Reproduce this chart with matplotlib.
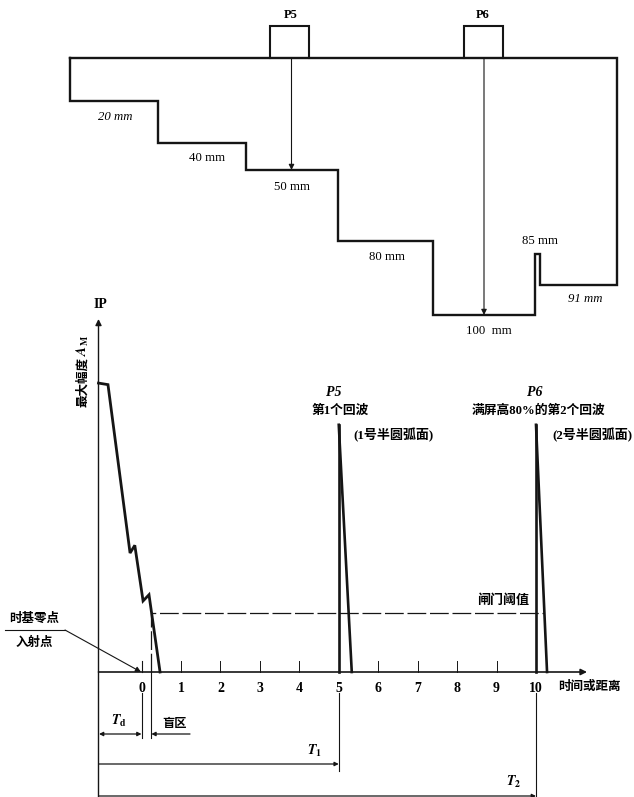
"""Stepped test block with its probe positions and the A-scan it produces."""

import matplotlib

matplotlib.use("Agg")
import matplotlib.pyplot as plt

plt.rcParams["font.family"] = ["Liberation Serif", "Noto Sans CJK SC"]
plt.rcParams["font.weight"] = "bold"
plt.rcParams["mathtext.fontset"] = "stix"

INK = "#151515"
WIDTH, HEIGHT = 634, 797

# block outline (pixels)
block_x = [70, 617, 617, 540, 540, 535, 535, 433, 433, 338, 338, 246, 246, 158, 158, 70, 70]
block_y = [58, 58, 285, 285, 254, 254, 315, 315, 241, 241, 170, 170, 143, 143, 101, 101, 58]
probe_names = ["P5", "P6"]
probe_left = [270, 464]
probe_right = [309, 503]
probe_top = 26
beam_x = [291.5, 484]
beam_end = [170, 315]
depth_labels = ["20 mm", "40 mm", "50 mm", "80 mm", "85 mm", "91 mm", "100  mm"]
depth_x = [115, 207, 292, 387, 540, 585, 489]
depth_y = [117, 158, 187, 257, 241, 299, 331]
depth_italic = [True, False, False, False, False, True, False]

# A-scan values: time in scale divisions, amplitude in % of screen height
ip_time = [-1.09, -0.85, -0.29, -0.17, 0.04, 0.19, 0.47]
ip_amp = [93.5, 93, 38.5, 41, 23, 25, 0]
echo_time = [5, 10]
echo_fall = [5.33, 10.28]
echo_amp = 80
threshold = 19
blind_end = 0.25
ticks = [1, 2, 3, 4, 5, 6, 7, 8, 9, 10]

# calibration of the scan onto the figure
PX_PER_DIV = 39.45
PX_PER_PCT = 3.09
ZERO_X, ZERO_Y = 141.5, 672


def px_t(x):
    return (x - ZERO_X) / PX_PER_DIV


def px_a(y):
    return (ZERO_Y - y) / PX_PER_PCT


fig = plt.figure(figsize=(WIDTH / 100, HEIGHT / 100), dpi=100)

ax_px = fig.add_axes([0, 0, 1, 1])
ax_px.set_xlim(0, WIDTH)
ax_px.set_ylim(HEIGHT, 0)
ax_px.axis("off")

ax = fig.add_axes([0, 0, 1, 1], facecolor="none")
ax.set_xlim(px_t(0), px_t(WIDTH))
ax.set_ylim(px_a(HEIGHT), px_a(0))
ax.axis("off")


def arrow(axes, start, end, style="-|>", lw=0.9, size=7):
    axes.annotate(
        "", xy=end, xytext=start,
        arrowprops=dict(arrowstyle=style, color=INK, lw=lw, mutation_scale=size,
                        shrinkA=0, shrinkB=0),
    )


# --- block ---
ax_px.plot(block_x, block_y, color=INK, lw=1.7, solid_joinstyle="miter")
for left, right in zip(probe_left, probe_right):
    ax_px.plot([left, left, right, right], [58, probe_top, probe_top, 58],
               color=INK, lw=1.5, solid_joinstyle="miter")
for x, end, name in zip(beam_x, beam_end, probe_names):
    arrow(ax_px, (x, 58), (x, end), lw=0.8, size=8)
    ax_px.text(x - 1, 15, name, ha="center", va="center", fontsize=9)
for label, x, y, italic in zip(depth_labels, depth_x, depth_y, depth_italic):
    ax_px.text(x, y, label, ha="center", va="center", fontsize=9.2, weight="normal",
               style="italic" if italic else "normal")

# --- scan axes ---
arrow(ax, (px_t(98.5), px_a(797)), (px_t(98.5), px_a(319)), lw=1.0, size=9)
arrow(ax, (px_t(98.5), 0), (px_t(587), 0), lw=1.2, size=9)
for t in ticks[:-1]:
    if t != 5:
        ax.plot([t, t], [0, px_a(661)], color=INK, lw=0.7)
ax.plot([0, 0], [0, px_a(661)], color=INK, lw=0.8)
for t in [0] + ticks:
    ax.text(t, px_a(688), str(t), ha="center", va="center", fontsize=10)

# --- traces ---
ax.plot(ip_time, ip_amp, color=INK, lw=2.0, solid_joinstyle="miter")
for t, fall in zip(echo_time, echo_fall):
    ax.plot([t, t], [0, echo_amp], color=INK, lw=1.9)
    ax.plot([t, fall], [echo_amp, 0], color=INK, lw=1.9)
ax.plot([blind_end, blind_end, 10.2], [0, threshold, threshold],
        color=INK, lw=0.9, dashes=(15, 3))

# --- dimension lines ---
ax.plot([blind_end, blind_end], [0, px_a(738)], color=INK, lw=0.8)
ax.plot([0, 0], [px_a(693), px_a(738)], color=INK, lw=0.8)
ax.plot([5, 5], [px_a(693), px_a(771)], color=INK, lw=0.8)
ax.plot([10, 10], [px_a(693), px_a(796)], color=INK, lw=0.8)
arrow(ax, (px_t(99), px_a(734)), (0, px_a(734)), style="<|-|>", size=6)
arrow(ax, (px_t(190), px_a(734)), (blind_end, px_a(734)), size=6)
arrow(ax, (px_t(99), px_a(764)), (5, px_a(764)), size=6)
arrow(ax, (px_t(99), px_a(796)), (10, px_a(796)), size=6)

# zero point leader
ax_px.plot([5, 65], [630, 630], color=INK, lw=0.8)
arrow(ax_px, (65, 630), (141, 672), lw=0.8, size=8)

# --- labels ---
ax_px.text(100, 304, "IP", ha="center", va="center", fontsize=10)
ax_px.text(83, 382, "最大幅度", ha="center", va="center", rotation=90, fontsize=9)
ax_px.text(83, 345, r"$A_{\mathrm{M}}$", ha="center", va="center", rotation=90, fontsize=10)
ax_px.text(334, 392, "P5", ha="center", va="center", fontsize=10, style="italic")
ax_px.text(340, 411, "第1个回波", ha="center", va="center", fontsize=9.2)
ax_px.text(394, 435, "(1号半圆弧面)", ha="center", va="center", fontsize=9.4)
ax_px.text(535, 392, "P6", ha="center", va="center", fontsize=10, style="italic")
ax_px.text(539, 411, "满屏高80%的第2个回波", ha="center", va="center", fontsize=9.2)
ax_px.text(592, 435, "(2号半圆弧面)", ha="center", va="center", fontsize=9.4)
ax_px.text(503, 600, "闸门阈值", ha="center", va="center", fontsize=9.4)
ax_px.text(589, 687, "时间或距离", ha="center", va="center", fontsize=9)
ax_px.text(34, 619, "时基零点", ha="center", va="center", fontsize=9)
ax_px.text(34, 643, "入射点", ha="center", va="center", fontsize=9)
ax_px.text(175, 724, "盲区", ha="center", va="center", fontsize=8.8)
ax_px.text(119, 721, r"$T_{\mathrm{d}}$", ha="center", va="center", fontsize=10)
ax_px.text(314, 751, r"$T_{1}$", ha="center", va="center", fontsize=10)
ax_px.text(514, 782, r"$T_{2}$", ha="center", va="center", fontsize=10)

fig.savefig("out.png", dpi=100)
plt.close(fig)
